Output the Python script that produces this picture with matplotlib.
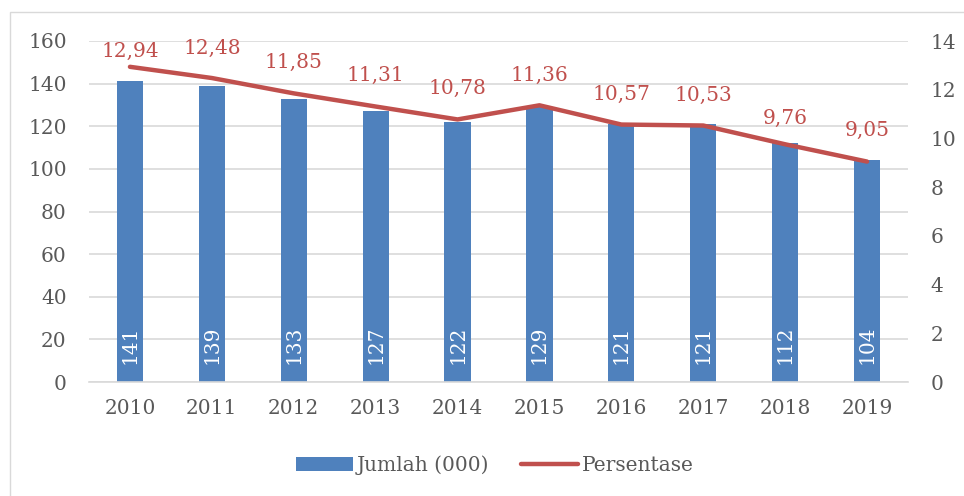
import matplotlib
matplotlib.use("Agg")
import matplotlib.pyplot as plt
from matplotlib.patches import Rectangle
import numpy as np

years = ["2010", "2011", "2012", "2013", "2014", "2015", "2016", "2017", "2018", "2019"]
jumlah = [141, 139, 133, 127, 122, 129, 121, 121, 112, 104]
persentase = [12.94, 12.48, 11.85, 11.31, 10.78, 11.36, 10.57, 10.53, 9.76, 9.05]
pct_labels = ["12,94", "12,48", "11,85", "11,31", "10,78", "11,36", "10,57", "10,53", "9,76", "9,05"]
left_ticks = [0, 20, 40, 60, 80, 100, 120, 140, 160]
right_ticks = [0, 2, 4, 6, 8, 10, 12, 14]

plt.rcParams['font.family'] = ['DejaVu Serif']
BLUE = "#4F81BD"
RED = "#C0504D"
GRAY = "#595959"
GRID = "#D9D9D9"
FS = 14.5

fig = plt.figure(figsize=(9.64, 4.96), dpi=100)
fig.patches.append(Rectangle((10/964, -0.1), 1.0, 1 - 12/496 + 0.1, transform=fig.transFigure,
                             fill=False, edgecolor="#D9D9D9", linewidth=1.0))
ax = fig.add_axes([89/964, 1 - 382/496, (908 - 89)/964, (382 - 41)/496])
x = np.arange(len(years))
bars = ax.bar(x, jumlah, width=0.32, color=BLUE, zorder=2, label="Jumlah (000)")
ax.set_xlim(-0.5, len(years) - 0.5)
ax.set_ylim(0, 160)
ax.set_yticks(left_ticks)
ax.grid(axis='y', color=GRID, linewidth=1.2, zorder=0)
ax.set_axisbelow(True)
for s in ax.spines.values():
    s.set_visible(False)
ax.spines['bottom'].set_visible(True)
ax.spines['bottom'].set_color(GRID)
ax.spines['bottom'].set_linewidth(1.2)
ax.tick_params(axis='both', length=0, labelsize=FS, colors=GRAY)
ax.tick_params(axis='y', pad=16)
ax.tick_params(axis='x', pad=12)
ax.set_xticks(x)
ax.set_xticklabels(years)

for xi, v in zip(x, jumlah):
    ax.annotate(str(v), (xi, 0), xytext=(0, 13), textcoords='offset points', rotation=90,
                ha='center', va='bottom', color='white', fontsize=FS, zorder=3)

ax2 = ax.twinx()
ax2.set_ylim(0, 14)
ax2.set_yticks(right_ticks)
for s in ax2.spines.values():
    s.set_visible(False)
ax2.tick_params(axis='y', length=0, labelsize=FS, colors=GRAY, pad=16)
line, = ax2.plot(x, persentase, color=RED, linewidth=3.2, solid_capstyle='round', label="Persentase", zorder=4)

offsets = [15, 30, 31, 31, 31, 30, 30, 30, 26, 31]
for xi, v, lab, off in zip(x, persentase, pct_labels, offsets):
    ax2.annotate(lab, (xi, v), xytext=(0, off * 0.72), textcoords='offset points',
                 ha='center', va='center', color=RED, fontsize=FS)

fig.legend(handles=[bars, line], labels=["Jumlah (000)", "Persentase"], loc='center',
           bbox_to_anchor=(495/964, 1 - 465/496), ncol=2, frameon=False, fontsize=FS,
           labelcolor=GRAY, handlelength=2.8, handletextpad=0.2, columnspacing=1.6)

fig.savefig("out.png", dpi=100)
